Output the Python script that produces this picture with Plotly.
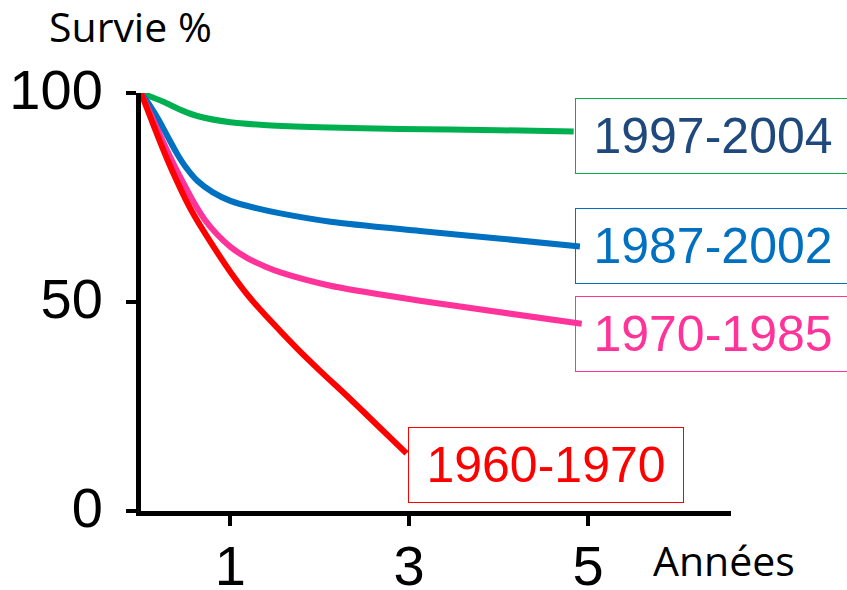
import plotly.graph_objects as go

# Survival curves (years, % survival)
green_x = [0, 0.05, 0.25, 0.45, 0.63, 1.0, 1.41, 2.0, 2.9, 4.0, 4.84]
green_y = [100, 99.6, 97.9, 95.9, 94.5, 93.0, 92.3, 91.8, 91.4, 91.1, 90.8]

blue_x = [0, 0.1, 0.2, 0.3, 0.4, 0.5, 0.63, 0.8, 1.0, 1.3, 1.56, 2.12, 3.12, 4.0, 4.91]
blue_y = [100, 97.0, 93.5, 89.5, 85.6, 82.3, 79.0, 76.3, 74.2, 72.4, 71.2, 69.2, 67.0, 65.2, 63.3]

pink_x = [0, 0.1, 0.2, 0.3, 0.4, 0.5, 0.6, 0.72, 0.85, 1.0, 1.19, 1.4, 1.56, 2.12, 2.68, 3.12, 4.0, 4.93]
pink_y = [100, 95.2, 90.5, 85.9, 81.5, 77.4, 73.5, 69.5, 66.2, 63.2, 60.5, 58.4, 57.1, 53.9, 51.8, 50.3, 47.6, 44.8]

red_x = [0, 0.1, 0.2, 0.3, 0.4, 0.5, 0.6, 0.8, 1.0, 1.2, 1.45, 1.75, 2.0, 2.34, 2.65, 2.97]
red_y = [100, 94.5, 89.0, 83.8, 79.0, 74.5, 70.5, 63.6, 57.2, 51.5, 45.5, 38.8, 33.6, 26.8, 20.4, 13.8]

series_names = ["1997-2004", "1987-2002", "1970-1985", "1960-1970"]
series_colors = ["#00B050", "#0070C0", "#FF3399", "#FF0000"]
label_text_colors = ["#1F497D", "#0070C0", "#FF3399", "#FF0000"]
label_x = [4.855, 4.855, 4.855, 2.987]
label_y = [89.8, 63.4, 42.3, 11.0]

x_ticks = [1, 3, 5]
y_ticks = [0, 50, 100]

fig = go.Figure()
for xs, ys, name, col in zip([green_x, blue_x, pink_x, red_x],
                             [green_y, blue_y, pink_y, red_y],
                             series_names, series_colors):
    fig.add_trace(go.Scatter(x=xs, y=ys, mode="lines", name=name,
                             line=dict(color=col, width=6, shape="spline", smoothing=0.8),
                             cliponaxis=False, showlegend=False))

annotations = []
for name, tcol, bcol, ax, ay in zip(series_names, label_text_colors, series_colors, label_x, label_y):
    annotations.append(dict(x=ax, y=ay, xref="x", yref="y", text=name, showarrow=False,
                            xanchor="left", yanchor="middle", width=274, height=74,
                            align="center", valign="middle",
                            font=dict(family="Liberation Sans, Arial", size=50, color=tcol),
                            bordercolor=bcol, borderwidth=1, borderpad=0,
                            bgcolor="rgba(0,0,0,0)"))

annotations.append(dict(x=-0.157, y=1.161, xref="paper", yref="paper", text="Survie %",
                        showarrow=False, xanchor="left", yanchor="middle", borderpad=0,
                        font=dict(family="Open Sans", size=41, color="black")))
annotations.append(dict(x=0.866, y=-0.117, xref="paper", yref="paper", text="Années",
                        showarrow=False, xanchor="left", yanchor="middle", borderpad=0,
                        font=dict(family="Open Sans", size=41, color="black")))

fig.update_layout(
    width=847, height=590,
    margin=dict(l=141, r=116, t=93, b=79),
    plot_bgcolor="white", paper_bgcolor="white",
    annotations=annotations,
    xaxis=dict(range=[0, 6.6], tickvals=x_ticks, ticktext=[str(v) for v in x_ticks],
               showgrid=False, zeroline=False, showline=True, linecolor="black", linewidth=5,
               ticks="outside", ticklen=10, tickwidth=4, tickcolor="black", automargin=False,
               tickfont=dict(family="Liberation Sans, Arial", size=56, color="black"),
               ticklabelstandoff=-8),
    yaxis=dict(range=[0, 100], tickvals=y_ticks, ticktext=[str(v) for v in y_ticks],
               showgrid=False, zeroline=False, showline=True, linecolor="black", linewidth=5,
               ticks="outside", ticklen=10, tickwidth=4, tickcolor="black", automargin=False,
               tickfont=dict(family="Liberation Sans, Arial", size=56, color="black"),
               ticklabelstandoff=12, ticklabelshift=-4),
)

fig.write_html("out.html")
